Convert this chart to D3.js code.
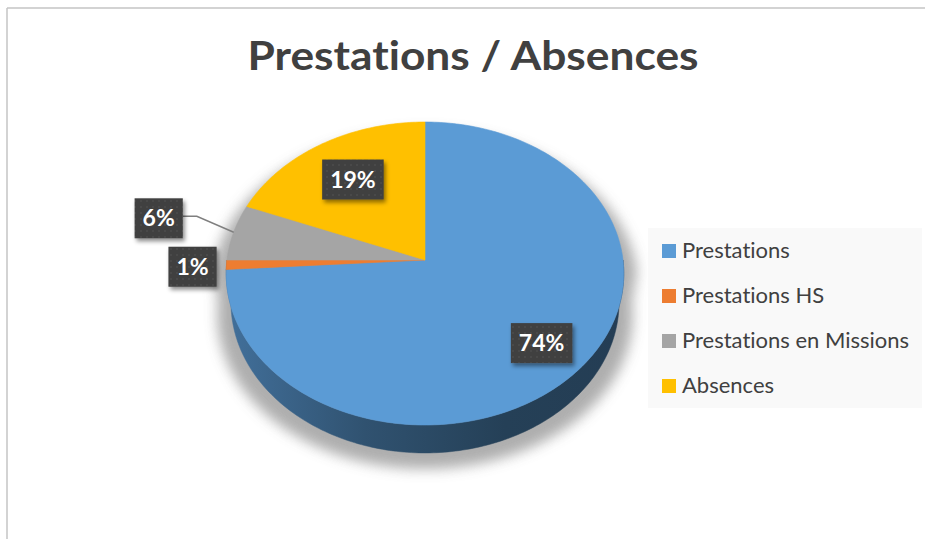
<!DOCTYPE html>
<html><head><meta charset="utf-8">
<script src="https://cdn.jsdelivr.net/npm/d3@7"></script>
<style>html,body{margin:0;padding:0;background:#fff;} svg{display:block;} text{font-variant-ligatures:none;font-feature-settings:"liga" 0;}</style>
</head><body>
<svg id="chart" width="925" height="539"></svg>
<script>
// Chart data
const title = "Prestations / Absences";
const categories = ["Prestations", "Prestations HS", "Prestations en Missions", "Absences"];
const values = [74, 1, 6, 19];
const valueLabels = ["74%", "1%", "6%", "19%"];
const colors = ["#5b9bd5", "#ed7d31", "#a5a5a5", "#ffc000"];

const W = 925, H = 539;
const svg = d3.select("#chart");
const font = "Lato, 'Open Sans', sans-serif";
const ink = "#404040";

// Perspective camera for the tilted pie
const cx = 425, cy = 260;          // projected centre of the top face
const D = 7.3;                      // camera distance (in pie radii)
const elev = Math.asin(0.759);      // camera elevation
const F = 198 * D;                  // focal scale
const depth = 0.234;                // thickness of the pie (in radii)
const sinE = Math.sin(elev), cosE = Math.cos(elev);

function project(a, r, z) {
  const X = r * Math.sin(a), Y = -r * Math.cos(a);
  const d = D - Y * cosE - z * sinE;
  return [cx + F * X / d, cy + F * (Y * sinE - z * cosE) / d];
}
function arcPoints(a0, a1, r, z) {
  const n = Math.max(2, Math.ceil(Math.abs(a1 - a0) / (Math.PI / 180)));
  return d3.range(n + 1).map(i => project(a0 + (a1 - a0) * i / n, r, z));
}
const line = d3.line().curve(d3.curveLinear);

const defs = svg.append("defs");
defs.append("filter").attr("id", "pieShadow")
  .attr("x", "-20%").attr("y", "-20%").attr("width", "140%").attr("height", "140%")
  .append("feGaussianBlur").attr("stdDeviation", 6);
const boxShadow = defs.append("filter").attr("id", "boxShadow")
  .attr("x", "-30%").attr("y", "-30%").attr("width", "170%").attr("height", "170%");
boxShadow.append("feDropShadow").attr("dx", 2).attr("dy", 3)
  .attr("stdDeviation", 2).attr("flood-color", "#000").attr("flood-opacity", 0.45);
const dots = defs.append("pattern").attr("id", "dots")
  .attr("width", 6).attr("height", 6).attr("patternUnits", "userSpaceOnUse");
dots.append("rect").attr("width", 6).attr("height", 6).attr("fill", "#3f3f3f");
dots.append("circle").attr("cx", 3).attr("cy", 3).attr("r", 0.7).attr("fill", "#595959");

colors.forEach((c, i) => {
  const base = d3.color(c);
  const g = defs.append("linearGradient").attr("id", "side" + i)
    .attr("gradientUnits", "userSpaceOnUse")
    .attr("x1", cx - 200).attr("x2", cx + 200).attr("y1", 0).attr("y2", 0);
  [[0, 0.9], [0.35, 1.8], [0.7, 2.5], [1, 2.6]].forEach(([o, k]) =>
    g.append("stop").attr("offset", o).attr("stop-color", base.darker(k).formatHex()));
});

// Chart frame
svg.append("line").attr("x1", 7).attr("x2", W).attr("y1", 8).attr("y2", 8)
  .attr("stroke", "#c4c4c4").attr("stroke-width", 1.5);
svg.append("line").attr("x1", 7).attr("x2", 7).attr("y1", 8).attr("y2", H)
  .attr("stroke", "#c4c4c4").attr("stroke-width", 1.5);

// Title
svg.append("text").attr("x", 473).attr("y", 70).attr("text-anchor", "middle")
  .attr("font-family", font).attr("font-weight", 700).attr("font-size", 40)
  .attr("textLength", 451).attr("lengthAdjust", "spacingAndGlyphs")
  .attr("fill", ink).text(title);

const pie = d3.pie().sort(null).value(d => d.value);
const arcs = pie(categories.map((c, i) => ({ name: c, value: values[i], color: colors[i], label: valueLabels[i], i })));

const pieG = svg.append("g");

// Soft shadow under the pie
const silhouette = arcPoints(-Math.PI / 2, Math.PI / 2, 1, 0)
  .concat(arcPoints(Math.PI / 2, 3 * Math.PI / 2, 1, -depth));
pieG.append("path")
  .attr("d", line(silhouette) + "Z")
  .attr("fill", "#a0a0a0").attr("opacity", 0.85)
  .attr("transform", `translate(${cx},${cy + 12}) scale(1.07,1.02) translate(${-cx},${-cy})`)
  .attr("filter", "url(#pieShadow)");

// Outer walls of the front half
arcs.forEach(s => {
  const a0 = Math.max(s.startAngle, Math.PI / 2), a1 = Math.min(s.endAngle, 3 * Math.PI / 2);
  if (a1 <= a0) return;
  const pts = arcPoints(a0, a1, 1, 0).concat(arcPoints(a1, a0, 1, -depth));
  pieG.append("path").attr("d", line(pts) + "Z")
    .attr("fill", `url(#side${s.data.i})`)
    .attr("stroke", `url(#side${s.data.i})`).attr("stroke-width", 0.5);
});

// Top face slices
arcs.forEach(s => {
  const pts = [project(0, 0, 0)].concat(arcPoints(s.startAngle, s.endAngle, 1, 0));
  pieG.append("path").attr("d", line(pts) + "Z")
    .attr("fill", s.data.color).attr("stroke", s.data.color).attr("stroke-width", 0.6);
});

// Data labels: inside labels sit along the slice's mid angle, outside ones are offset from its rim
const labelPlacement = {
  "Prestations": { r: 0.77 },
  "Prestations HS": { rim: [-34, 2] },
  "Prestations en Missions": { rim: [-75, -14], leader: true },
  "Absences": { r: 0.68 }
};
const labelG = svg.append("g");
arcs.forEach(s => {
  const mid = (s.startAngle + s.endAngle) / 2;
  const place = labelPlacement[s.data.name];
  let pos;
  const rim = project(mid, 1, 0);
  if (place.rim) pos = [rim[0] + place.rim[0], rim[1] + place.rim[1]];
  else pos = project(mid, place.r, 0);

  const g = labelG.append("g");
  const t = g.append("text").attr("x", pos[0]).attr("y", pos[1] + 8)
    .attr("text-anchor", "middle").attr("font-family", font)
    .attr("font-weight", 700).attr("font-size", 23).attr("fill", "#fff")
    .text(s.data.label);
  const tw = t.node().getComputedTextLength();
  const bw = tw + 16, bh = 40;
  if (place.leader) {
    const bx = pos[0] + bw / 2;
    labelG.insert("path", ":first-child")
      .attr("d", line([[bx, pos[1] - 2], [bx + 14, pos[1] - 2], rim]))
      .attr("fill", "none").attr("stroke", "#7f7f7f").attr("stroke-width", 1.5);
  }
  g.insert("rect", "text").attr("x", pos[0] - bw / 2).attr("y", pos[1] - bh / 2)
    .attr("width", bw).attr("height", bh).attr("fill", "url(#dots)")
    .attr("filter", "url(#boxShadow)");
});

// Legend
const lg = svg.append("g");
lg.append("rect").attr("x", 648).attr("y", 228).attr("width", 274).attr("height", 180)
  .attr("fill", "#f9f9f9");
const legendY = d3.scalePoint().domain(categories).range([251, 386]);
categories.forEach((c, i) => {
  const y = legendY(c);
  lg.append("rect").attr("x", 662).attr("y", y - 7).attr("width", 14).attr("height", 14)
    .attr("fill", colors[i]);
  lg.append("text").attr("x", 682).attr("y", y + 7)
    .attr("font-family", font).attr("font-size", 22).attr("fill", ink).text(c);
});
</script>
</body></html>
